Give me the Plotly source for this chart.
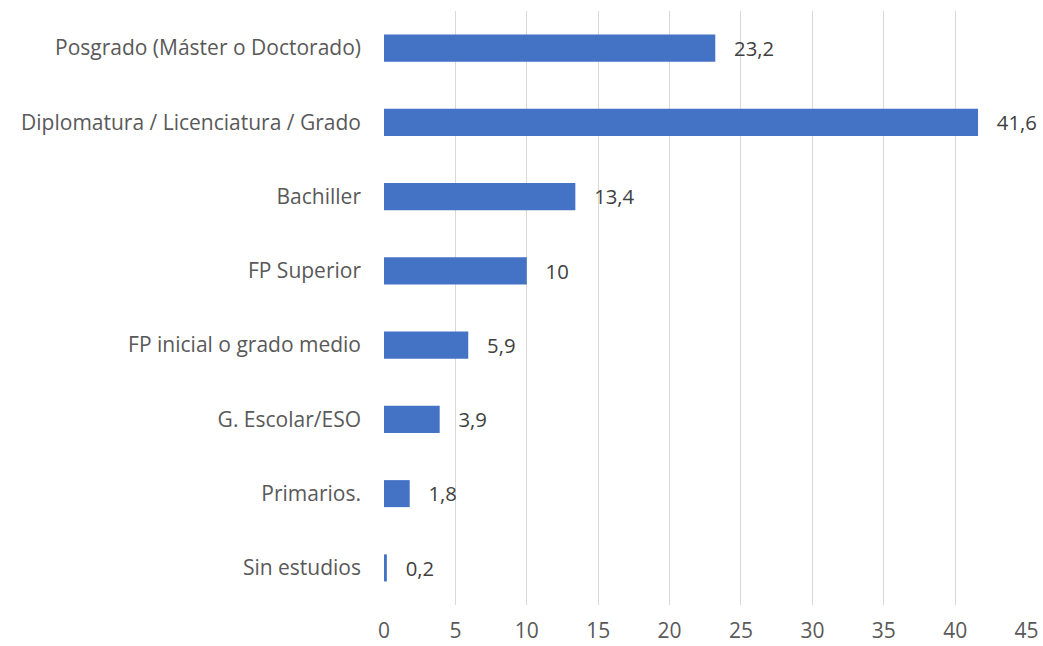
import plotly.graph_objects as go

categories = [
    "Sin estudios",
    "Primarios.",
    "G. Escolar/ESO",
    "FP inicial o grado medio",
    "FP Superior",
    "Bachiller",
    "Diplomatura / Licenciatura / Grado",
    "Posgrado (Máster o Doctorado)",
]
values = [0.2, 1.8, 3.9, 5.9, 10, 13.4, 41.6, 23.2]
x_ticks = [0, 5, 10, 15, 20, 25, 30, 35, 40, 45]

FONT = "Open Sans"
FS = 21

fig = go.Figure(
    go.Bar(
        x=values,
        y=categories,
        orientation="h",
        marker=dict(color="#4472C4", line=dict(width=0)),
        texttemplate="\u00a0\u00a0\u00a0%{x}",
        textposition="outside",
        textfont=dict(family=FONT, size=FS, color="#404040"),
        cliponaxis=False,
        width=0.364,
    )
)

fig.update_layout(
    width=1043,
    height=646,
    margin=dict(l=384, r=16, t=11, b=41, autoexpand=False),
    paper_bgcolor="white",
    plot_bgcolor="white",
    separators=",.",
    showlegend=False,
    font=dict(family=FONT, size=FS, color="#595959"),
)
fig.update_xaxes(
    range=[0, 45.03],
    tickvals=x_ticks,
    showgrid=True,
    gridcolor="#D9D9D9",
    gridwidth=1,
    zeroline=False,
    showline=False,
    ticks="",
    automargin=False,
    ticklabelstandoff=11,
    tickfont=dict(family=FONT, size=FS, color="#595959"),
)
fig.update_yaxes(
    showgrid=False,
    showline=False,
    ticks="",
    automargin=False,
    ticklabelstandoff=22,
    tickfont=dict(family=FONT, size=FS, color="#595959"),
)

fig.write_html(
    "out.html",
    config={"displayModeBar": False},
    post_script="document.body.style.margin='0';document.body.style.overflow='hidden';",
)
